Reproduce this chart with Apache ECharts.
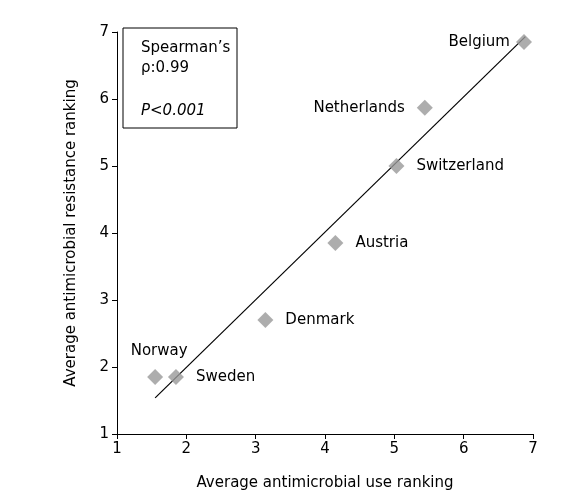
<!DOCTYPE html><html><head><meta charset="utf-8"><script src="https://cdn.jsdelivr.net/npm/echarts@6/dist/echarts.min.js"></script></head><body style="margin:0"><div id="c" style="width:578px;height:499px"></div><script>
const countries=['Belgium','Netherlands','Switzerland','Austria','Denmark','Norway','Sweden'];
const useRank=[6.87,5.44,5.03,4.15,3.14,1.55,1.85];
const resRank=[6.85,5.87,5.0,3.85,2.70,1.85,1.85];
const fitLine=[[1.55,1.54],[6.89,6.93]];
const labelPos=['left','left','right','right','right','top','right'];
const ch=echarts.init(document.getElementById('c'));
const ax={type:'value',min:1,max:7,interval:1,splitLine:{show:false},axisLine:{show:true,lineStyle:{color:'#000'}},axisTick:{show:true,length:5,lineStyle:{color:'#000'}},axisLabel:{color:'#000',fontSize:15,fontFamily:'DejaVu Sans'},nameLocation:'middle',nameTextStyle:{color:'#000',fontSize:15,fontFamily:'DejaVu Sans'}};
ch.setOption({animation:false,grid:{left:117,right:45,top:32,bottom:65},
xAxis:Object.assign({},ax,{name:'Average antimicrobial use ranking',nameGap:42}),
yAxis:Object.assign({},ax,{name:'Average antimicrobial resistance ranking',nameGap:38}),
graphic:[{type:'rect',shape:{x:123,y:28,width:114,height:100},style:{fill:'#fff',stroke:'#000',lineWidth:1}},
{type:'text',left:141,top:38,style:{text:'Spearman’s\nρ:0.99',font:'15px DejaVu Sans',fill:'#000',lineHeight:20}},
{type:'text',left:141,top:104,style:{text:'P<0.001',font:'italic 15px DejaVu Sans',fill:'#000'}}],
series:[{type:'line',data:fitLine,symbol:'none',lineStyle:{color:'#000',width:1.2},z:1},
{type:'scatter',symbol:'diamond',symbolSize:16,itemStyle:{color:'#999'},z:2,
data:countries.map((c,i)=>({value:[useRank[i],resRank[i]],name:c,label:{show:true,position:labelPos[i],distance:i==0?6:(i==5?10:12),offset:i==5?[4,0]:[0,0],formatter:c,color:'#000',opacity:1,fontSize:15,fontFamily:'DejaVu Sans'}}))}]});
</script></body></html>
